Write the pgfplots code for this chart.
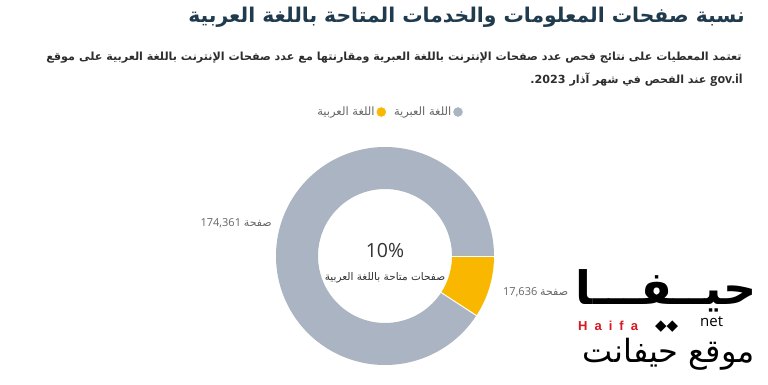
\documentclass[border=0pt]{standalone}
\usepackage{pgfplots}
\pgfplotsset{compat=1.18}
\usepackage{pgfplotstable}
\usepackage{fontspec}
\setmainfont{Open Sans}
\newfontfamily\arabicfont[Script=Arabic]{DejaVu Sans}
\newfontfamily\symfont{DejaVu Sans}
\newfontfamily\logofont{Liberation Sans}
\TeXXeTstate=1
\definecolor{titlecol}{HTML}{1F3B4D}
\definecolor{subcol}{HTML}{2E2E2E}
\definecolor{labcol}{HTML}{666666}
\definecolor{darkcol}{HTML}{333333}
\definecolor{slicegray}{HTML}{AAB4C2}
\definecolor{sliceyel}{HTML}{F9B700}
\definecolor{logored}{HTML}{D71920}

\pgfplotstableread{
lang value
arabic 17636
hebrew 174361
}\pagedata
\pgfplotstablegetelem{0}{value}\of\pagedata\let\vAr\pgfplotsretval%
\pgfplotstablegetelem{1}{value}\of\pagedata\let\vHe\pgfplotsretval%
\pgfkeys{/pgf/fpu=true,/pgf/fpu/output format=fixed}%
\pgfmathsetmacro\angAr{360*\vAr/(\vAr+\vHe)}%
\pgfkeys{/pgf/fpu=false}%
\pgfmathsetmacro\angHe{360-\angAr}%

\begin{document}%
\begin{tikzpicture}
\begin{axis}[
  scale only axis, width=768pt, height=384pt,
  xmin=0, xmax=768, ymin=0, ymax=384,
  enlargelimits=false, hide axis, clip=false,
  legend plot pos=right,
  legend columns=2,
  legend image code/.code={\fill[#1] (4.5pt,0pt) circle (4.5pt);},
  legend style={draw=none, fill=none, at={(axis cs:389,272)}, anchor=center,
    font=\arabicfont\fontsize{11.5}{13}\selectfont, text=labcol,
    /tikz/every even column/.append style={column sep=6pt}},
]
% background
\fill[white] (axis cs:0,0) rectangle (axis cs:768,384);
\coordinate (bl) at (axis cs:0,0);
\coordinate (tr) at (axis cs:768,384);
% donut slices from data
\addplot[forget plot, draw=slicegray, line width=42pt, line join=round, domain=0:\angHe, samples=300] ({385+88*cos(x)},{128+88*sin(x)});
\addplot[forget plot, draw=sliceyel, line width=42pt, line join=round, domain=-\angAr:0, samples=60] ({385+88*cos(x)},{128+88*sin(x)});
\addplot[forget plot, draw=white, line width=1pt, domain=66:110, samples=2] ({385+x*cos(-\angAr)},{128+x*sin(-\angAr)});
\addplot[forget plot, draw=white, line width=1pt, domain=66:110, samples=2] ({385+x},{128});
% legend
\addlegendimage{sliceyel}
\addlegendentry{\beginR اللغة العربية\endR}
\addlegendimage{slicegray}
\addlegendentry{\beginR اللغة العبرية\endR}
% title and subtitle
\node[anchor=base east, inner sep=0, text=titlecol, font=\arabicfont\bfseries\fontsize{20.3}{24}\selectfont] at (axis cs:745,361)
  {\beginR نسبة صفحات المعلومات والخدمات المتاحة باللغة العربية\endR};
\node[anchor=base east, inner sep=0, text=subcol, font=\arabicfont\bfseries\fontsize{11.15}{13}\selectfont] at (axis cs:742,324)
  {\beginR تعتمد المعطيات على نتائج فحص عدد صفحات الإنترنت باللغة العبرية ومقارنتها مع عدد صفحات الإنترنت باللغة العربية على موقع\endR};
\node[anchor=base east, inner sep=0, text=subcol, font=\arabicfont\bfseries\fontsize{11.15}{13}\selectfont] at (axis cs:743,301)
  {\beginR\beginL{\normalfont\bfseries\fontsize{12.5}{14}\selectfont gov.il}\endL{} عند الفحص في شهر آذار \beginL 2023\endL.\endR};
% data labels
\node[anchor=base east, inner sep=0, text=labcol, font=\fontsize{11}{13}\selectfont] at (axis cs:272,158)
  {174,361 {\arabicfont صفحة}};
\node[anchor=base west, inner sep=0, text=labcol, font=\fontsize{11}{13}\selectfont] at (axis cs:503,89)
  {17,636 {\arabicfont صفحة}};
% centre text
\node[anchor=base, inner sep=0, text=darkcol, font=\fontsize{19.5}{22}\selectfont] at (axis cs:385,127) {10\%};
\node[anchor=base, inner sep=0, text=darkcol, font=\arabicfont\fontsize{10.5}{13}\selectfont] at (axis cs:385,104)
  {\beginR صفحات متاحة باللغة العربية\endR};
% watermark logo
\node[anchor=base east, inner sep=0, font=\arabicfont\bfseries\fontsize{46}{50}\selectfont] at (axis cs:757,80) {حيــفـــا};
\node[anchor=base west, inner sep=0, text=logored, font=\logofont\bfseries\fontsize{13}{15}\selectfont] at (axis cs:578,54)
  {H\hspace{7pt}a\hspace{7pt}i\hspace{7pt}f\hspace{7pt}a};
\node[anchor=base west, inner sep=0, font=\symfont\fontsize{15}{16}\selectfont] at (axis cs:655,54) {◆◆};
\node[anchor=base west, inner sep=0, font=\fontsize{15}{17}\selectfont] at (axis cs:700,58) {net};
\node[anchor=base east, inner sep=0, font=\arabicfont\fontsize{32}{36}\selectfont] at (axis cs:755,22)
  {\beginR موقع حيفانت\endR};
\end{axis}
\pgfresetboundingbox
\useasboundingbox (bl) rectangle (tr);
\end{tikzpicture}%
\end{document}
